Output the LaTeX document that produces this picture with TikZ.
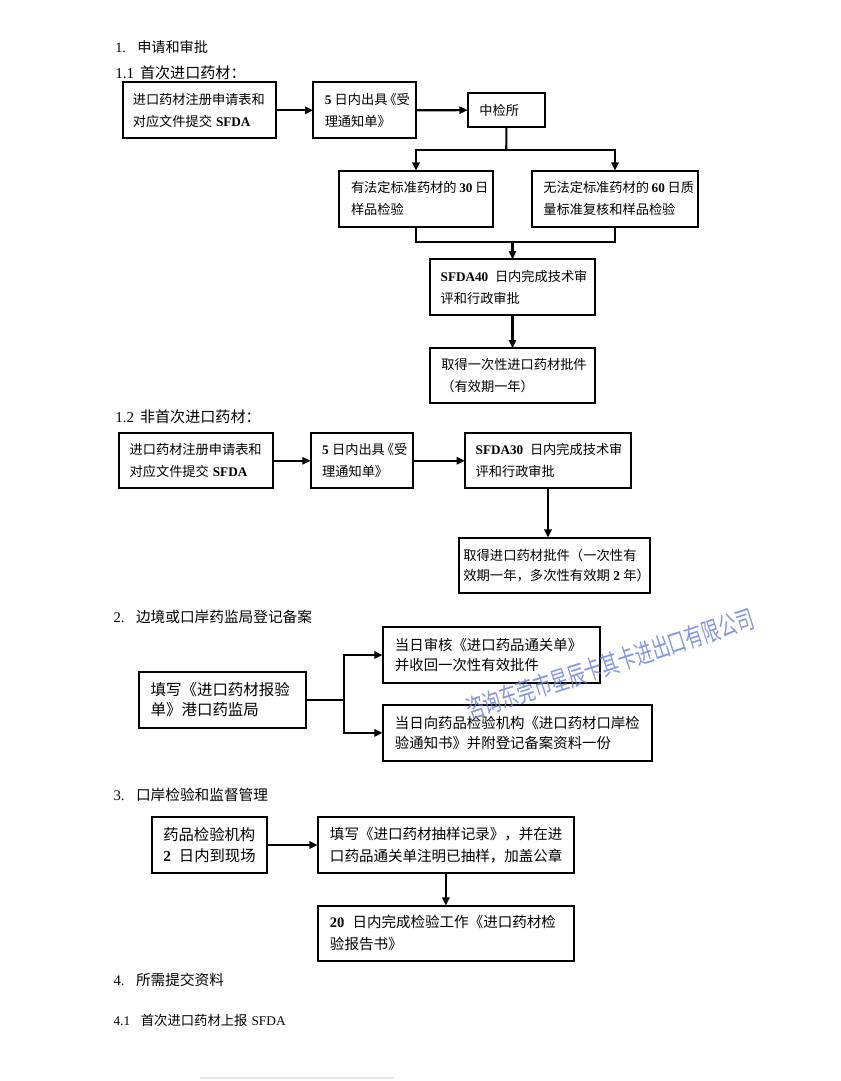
\documentclass[tikz,border=0pt]{standalone}
\usepackage{fontspec}
\setmainfont{Noto Sans CJK SC}
\newfontfamily\latf{Liberation Serif}
\usetikzlibrary{arrows.meta,calc}
\definecolor{wmblue}{RGB}{105,125,215}
\newcommand\lb[1]{{\latf\bfseries #1}}
\newcommand\lr[1]{{\latf #1}}
\newcommand\myfA{\fontsize{9.9}{16.3}\selectfont}
\newcommand\myfB{\fontsize{10}{14.5}\selectfont}
\newcommand\myfC{\fontsize{11.6}{15}\selectfont}
\newcommand\myfD{\fontsize{10.8}{15}\selectfont}
\newcommand\myfE{\fontsize{11.5}{16.3}\selectfont}
\newcommand\myfF{\fontsize{10.9}{16.3}\selectfont}
\tikzset{
  box/.style={draw, line width=1.3pt, align=left, inner ysep=0pt, outer sep=0pt},
  conn/.style={line width=1.6pt},
  arr/.style={conn, -{Triangle[length=6.2pt,width=5.4pt]}},
  head/.style={anchor=west, inner sep=0pt, font=\fontsize{11}{13}\selectfont},
}
% name x1 y1 x2 y2 font pad(pt) text
\newcommand\flowbox[8]{%
  \pgfmathsetmacro\fbW{(#4-#2)*0.75}%
  \pgfmathsetmacro\fbH{(#5-#3)*0.75}%
  \pgfmathsetmacro\fbT{\fbW-2*#7}%
  \node[box, minimum width=\fbW pt, minimum height=\fbH pt, text width=\fbT pt,
        inner xsep=#7pt, font=#6] (#1) at ({(#2+#4)/2},{(#3+#5)/2}) {#8};}
\begin{document}
\begin{tikzpicture}[x=0.75pt,y=-0.75pt]
\fill[white] (0,0) rectangle (840,1081);
\useasboundingbox (0,0) rectangle (840,1081);

% headings
\node[head, font=\fontsize{10.6}{13}\selectfont] (h1) at (115,46.7) {\lr{1.}\kern8.6pt申请和审批};
\node[head, font=\fontsize{11.3}{13}\selectfont] (h11) at (115,72.7) {\lr{1.1}\kern4.5pt首次进口药材：};
\node[head, font=\fontsize{11.3}{13}\selectfont] (h12) at (115,417) {\lr{1.2}\kern4.5pt非首次进口药材：};
\node[head] (h2) at (113.3,616.7) {\lr{2.}\kern8.6pt边境或口岸药监局登记备案};
\node[head] (h3) at (113.3,795) {\lr{3.}\kern8.6pt口岸检验和监督管理};
\node[head] (h4) at (113.3,980) {\lr{4.}\kern8.6pt所需提交资料};
\node[head, font=\fontsize{10}{13}\selectfont] (h41) at (113.3,1020) {\lr{4.1}\kern8pt首次进口药材上报\kern3pt\lr{SFDA}};

% section 1.1
\flowbox{b11}{122.7}{82.3}{275.7}{138.3}{\myfA}{7.6}{进口药材注册申请表和\\对应文件提交\kern3pt\lb{SFDA}}
\flowbox{b12}{313.3}{82.3}{416}{138.3}{\myfA}{8.6}{\lb{5}\kern2.5pt日内出具\kern-3pt《受\\理通知单》}
\flowbox{b13}{467.7}{93}{545}{127.3}{\myfA}{8.8}{中检所}
\flowbox{b14}{339.3}{170.7}{492.7}{226.7}{\myfA}{8.8}{有法定标准药材的\kern2pt\lb{30}\kern2pt日\\样品检验}
\flowbox{b15}{531.7}{170.7}{698.3}{226.7}{\myfA}{8.8}{无法定标准药材的\kern2pt\lb{60}\kern2pt日质\\量标准复核和样品检验}
\flowbox{b16}{430}{259.3}{595}{315}{\myfA}{8}{\lb{SFDA40}\kern5pt日内完成技术审\\评和行政审批}
\flowbox{b17}{430}{348.3}{595}{403.3}{\myfA}{8.6}{取得一次性进口药材批件\\（有效期一年）}

\coordinate (s1) at (506.3,150);
\coordinate (m1) at (512.5,241.7);
\draw[arr] (b11.east) -- (b12.west);
\draw[arr] (b12.east) -- (b13.west);
\draw[conn] (b13.south) -- (s1);
\draw[arr] (s1) -| (b14.north);
\draw[arr] (s1) -| (b15.north);
\draw[conn] (b14.south) |- (m1);
\draw[conn] (b15.south) |- (m1);
\draw[arr] (m1) -- (b16.north);
\draw[arr] (b16.south) -- (b17.north);

% section 1.2
\flowbox{c1}{119}{433.3}{272.7}{488.3}{\myfA}{8}{进口药材注册申请表和\\对应文件提交\kern3pt\lb{SFDA}}
\flowbox{c2}{310.7}{433.3}{413.3}{488.3}{\myfA}{8.6}{\lb{5}\kern2.5pt日内出具\kern-3pt《受\\理通知单》}
\flowbox{c3}{465}{433.3}{631}{488.3}{\myfA}{8}{\lb{SFDA30}\kern5pt日内完成技术审\\评和行政审批}
\flowbox{c4}{459.3}{537.7}{650}{593.3}{\myfB}{3}{取得进口药材批件（一次性有\\效期一年，多次性有效期\kern2.5pt\lb{2}\kern2.5pt年）}
\draw[arr] (c1.east) -- (c2.west);
\draw[arr] (c2.east) -- (c3.west);
\draw[arr] (c3.south) -- (c3.south |- c4.north);

% section 2
\flowbox{d1}{139.3}{671.7}{306}{727.7}{\myfC}{8.5}{填写《进口药材报验\\单》港口药监局}
\flowbox{d2}{382.7}{627.3}{600}{682.7}{\myfD}{9.2}{当日审核《进口药品通关单》\\并收回一次性有效批件}
\flowbox{d3}{382.7}{705}{652.3}{760.7}{\myfD}{9.2}{当日向药品检验机构《进口药材口岸检\\验通知书》并附登记备案资料一份}
\coordinate (s2) at (344.3,699.7);
\draw[conn] (d1.east) -- (s2);
\draw[arr] (s2) |- (d2.west);
\draw[arr] (s2) |- (d3.west);

% section 3
\flowbox{e1}{151.7}{817.3}{266.7}{872.7}{\myfE}{8.7}{药品检验机构\\\lb{2}\kern6pt日内到现场}
\flowbox{e2}{317.7}{817.3}{574}{872.7}{\myfF}{9.2}{填写《进口药材抽样记录》，并在进\\口药品通关单注明已抽样，加盖公章}
\flowbox{e3}{317.7}{905.7}{574}{960.7}{\myfF}{9.2}{\lb{20}\kern6pt日内完成检验工作《进口药材检\\验报告书》}
\draw[arr] (e1.east) -- (e2.west);
\draw[arr] (e2.south) -- (e3.north);

% watermark
\node[rotate=18, xscale=0.68, inner sep=0pt, text=wmblue, text opacity=0.8,
      font=\fontsize{19.5}{19.5}\selectfont] (wm) at (610,664) {咨询东莞市星辰卡其卡进出口有限公司};

% faint line at bottom
\draw[gray!20, line width=0.8pt] (200,1078) -- (393,1078);
\end{tikzpicture}
\end{document}
